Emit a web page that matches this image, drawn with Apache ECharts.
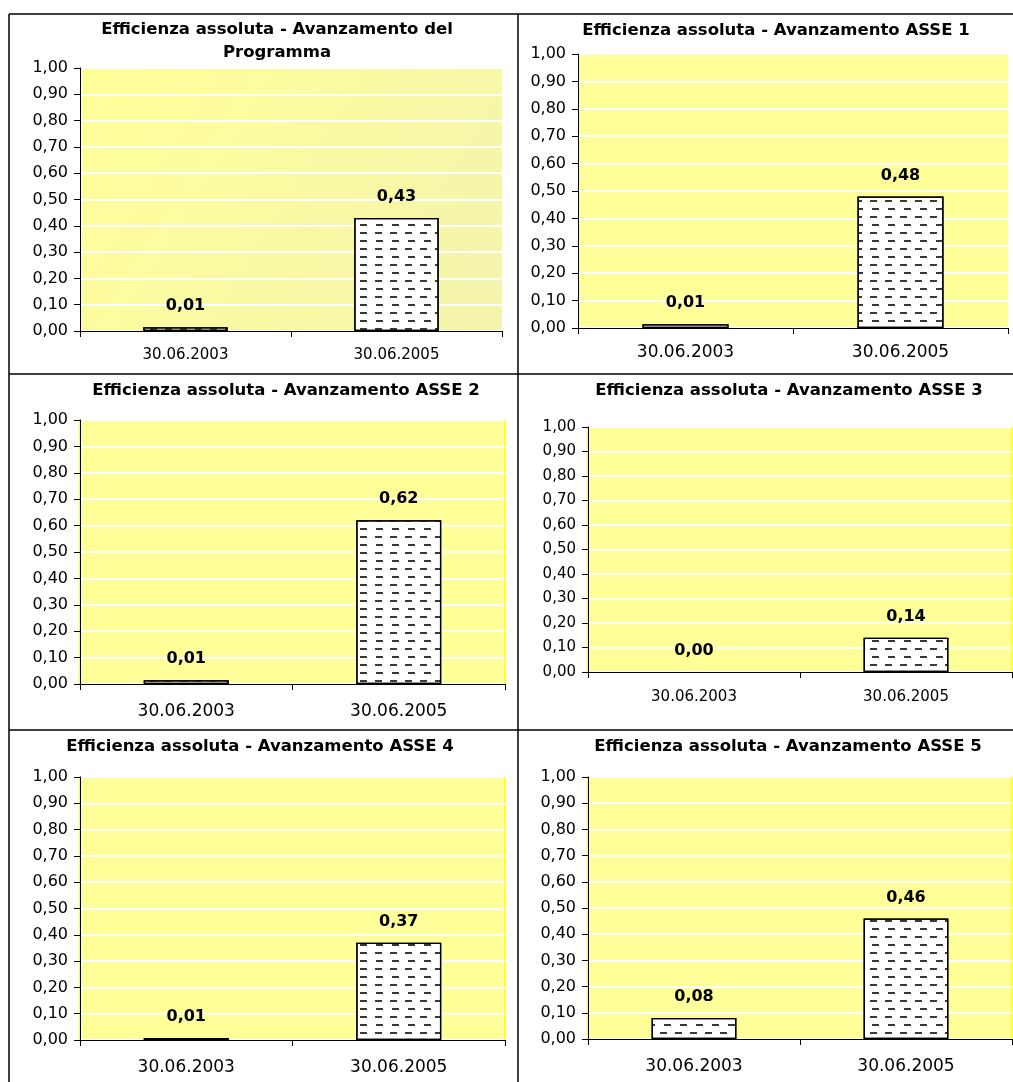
<!DOCTYPE html>
<html>
<head>
<meta charset="utf-8">
<script src="https://cdn.jsdelivr.net/npm/echarts@6/dist/echarts.min.js"></script>
<style>
html,body{margin:0;padding:0;background:#fff;}
#chart{width:1013px;height:1082px;}
</style>
</head>
<body>
<div id="chart"></div>
<script>
// ---- data ----
const categories = ['30.06.2003', '30.06.2005'];
const panelTitles = [
  'Efficienza assoluta - Avanzamento del\nProgramma',
  'Efficienza assoluta - Avanzamento ASSE 1',
  'Efficienza assoluta - Avanzamento ASSE 2',
  'Efficienza assoluta - Avanzamento ASSE 3',
  'Efficienza assoluta - Avanzamento ASSE 4',
  'Efficienza assoluta - Avanzamento ASSE 5'
];
const valuesProgramma = [0.014, 0.43];
const valuesAsse1 = [0.014, 0.48];
const valuesAsse2 = [0.014, 0.62];
const valuesAsse3 = [0.0, 0.14];
const valuesAsse4 = [0.008, 0.37];
const valuesAsse5 = [0.08, 0.46];
const yMin = 0, yMax = 1, yStep = 0.1;

// ---- layout (pixels) ----
const panels = [
  {data: valuesProgramma, grid: {left: 80, top: 68, width: 422, height: 263}, tx: 277, ty: 18.5, yFont: 16, xFont: 15, xMargin: 17, bg: 'grad', border: 0},
  {data: valuesAsse1, grid: {left: 578, top: 54, width: 430, height: 274}, tx: 776, ty: 19, yFont: 16, xFont: 17, xMargin: 16, bg: '#FFFF99', border: 0},
  {data: valuesAsse2, grid: {left: 80, top: 420, width: 425, height: 264}, tx: 286, ty: 379, yFont: 16, xFont: 17, xMargin: 19, bg: '#FFFF99', border: 1.5},
  {data: valuesAsse3, grid: {left: 588, top: 427, width: 424, height: 245}, tx: 789, ty: 379, yFont: 15, xFont: 15, xMargin: 18, bg: '#FFFF99', border: 1.5},
  {data: valuesAsse4, grid: {left: 80, top: 777, width: 425, height: 263}, tx: 260, ty: 735, yFont: 16, xFont: 17, xMargin: 19, bg: '#FFFF99', border: 1.5},
  {data: valuesAsse5, grid: {left: 588, top: 777, width: 424, height: 262}, tx: 788, ty: 735, yFont: 16, xFont: 17, xMargin: 19, bg: '#FFFF99', border: 1.5}
];

const FONT = 'DejaVu Sans';
const fmt = v => Number(v).toFixed(2).replace('.', ',');

const grids = [], xAxes = [], yAxes = [], series = [], titles = [];
panels.forEach((p, i) => {
  grids.push(Object.assign({
    show: true,
    backgroundColor: p.bg === 'grad' ? new echarts.graphic.LinearGradient(0, 0, 1, 1, [
      {offset: 0, color: '#FFFF99'}, {offset: 1, color: '#F4F4AE'}]) : p.bg,
    borderColor: '#FFFF00',
    borderWidth: p.border,
    containLabel: false
  }, p.grid));
  titles.push({
    text: panelTitles[i],
    left: p.tx, top: p.ty, textAlign: 'center', padding: 0,
    textStyle: {fontFamily: FONT, fontSize: 16.5, fontWeight: 'bold', color: '#000', lineHeight: 23}
  });
  xAxes.push({
    type: 'category', gridIndex: i, data: categories,
    axisLine: {show: true, lineStyle: {color: '#000', width: 1}},
    axisTick: {show: true, length: 6, inside: false, lineStyle: {color: '#000'}},
    axisLabel: {fontFamily: FONT, fontSize: p.xFont, color: '#000', margin: p.xMargin},
    splitLine: {show: false}
  });
  yAxes.push({
    type: 'value', gridIndex: i, min: yMin, max: yMax, interval: yStep,
    axisLine: {show: true, lineStyle: {color: '#000', width: 1}},
    axisTick: {show: true, length: 6, lineStyle: {color: '#000'}},
    axisLabel: {fontFamily: FONT, fontSize: p.yFont, color: '#000', margin: 12, formatter: fmt},
    splitLine: {show: true, lineStyle: {color: '#FFFFFF', width: 2}}
  });
  series.push({
    type: 'bar', xAxisIndex: i, yAxisIndex: i,
    data: p.data.map(v => v === 0 ? {value: v, itemStyle: {borderWidth: 0}} : v),
    barWidth: '40%',
    itemStyle: {
      color: '#FFFFFF', borderColor: '#000', borderWidth: 1.3,
      decal: {
        symbol: 'rect', symbolSize: 1, color: '#3a3a3a',
        dashArrayX: [[7, 8], [0, 7.5, 7, 0.5]],
        dashArrayY: [2, 5.7], rotation: 0
      }
    },
    label: {
      show: true, position: 'top', distance: 13,
      fontFamily: FONT, fontSize: 16, fontWeight: 'bold', color: '#000',
      formatter: d => fmt(d.value)
    },
    silent: true, animation: false
  });
});

const lineStyle = {stroke: '#000', lineWidth: 1.5};
const graphic = [
  {type: 'line', shape: {x1: 9, y1: 14, x2: 1013, y2: 14}, style: lineStyle, silent: true},
  {type: 'line', shape: {x1: 9, y1: 14, x2: 9, y2: 1082}, style: lineStyle, silent: true},
  {type: 'line', shape: {x1: 518, y1: 14, x2: 518, y2: 1082}, style: lineStyle, silent: true},
  {type: 'line', shape: {x1: 9, y1: 374, x2: 1013, y2: 374}, style: lineStyle, silent: true},
  {type: 'line', shape: {x1: 9, y1: 730, x2: 1013, y2: 730}, style: lineStyle, silent: true}
];

const chart = echarts.init(document.getElementById('chart'), null, {renderer: 'canvas'});
chart.setOption({
  animation: false,
  backgroundColor: '#FFFFFF',
  title: titles,
  grid: grids,
  xAxis: xAxes,
  yAxis: yAxes,
  series: series,
  graphic: graphic
});
</script>
</body>
</html>
